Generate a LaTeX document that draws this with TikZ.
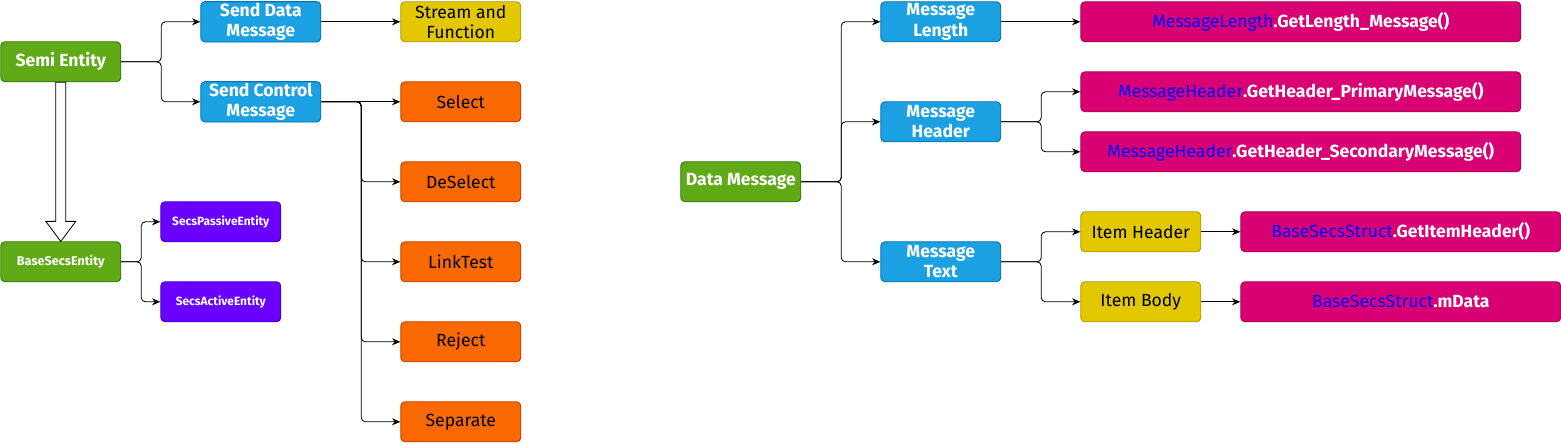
\documentclass[tikz,border=0pt]{standalone}
\usepackage{fontspec}
\setmainfont{Fira Sans}
\usepackage{tikz}
\usetikzlibrary{positioning}
\usetikzlibrary{calc}
\usetikzlibrary{arrows.meta}

\definecolor{gfill}{HTML}{60A917}\definecolor{gline}{HTML}{2D7600}
\definecolor{bfill}{HTML}{1BA1E2}\definecolor{bline}{HTML}{006EAF}
\definecolor{yfill}{HTML}{E3C800}\definecolor{yline}{HTML}{B09500}
\definecolor{ofill}{HTML}{FA6800}\definecolor{oline}{HTML}{C73500}
\definecolor{pfill}{HTML}{6A00FF}\definecolor{pline}{HTML}{3700CC}
\definecolor{mfill}{HTML}{D80073}\definecolor{mline}{HTML}{A50040}
\definecolor{cls}{HTML}{0000FF}

\newcommand{\cl}[2]{{\color{cls}\mdseries #1}.#2}

\begin{document}
\begin{tikzpicture}[
    font=\fontsize{12.5}{14.5}\selectfont,
    box/.style={rectangle,rounded corners=3pt,draw,line width=0.6pt,minimum width=3cm,minimum height=1cm,align=center,inner sep=1pt},
    green/.style={box,fill=gfill,draw=gline,text=white,font=\fontsize{12.5}{14.5}\selectfont\bfseries},
    blue/.style={box,fill=bfill,draw=bline,text=white,font=\fontsize{12.5}{14.5}\selectfont\bfseries},
    yellow/.style={box,fill=yfill,draw=yline,text=black},
    orange/.style={box,fill=ofill,draw=oline,text=black},
    purple/.style={box,fill=pfill,draw=pline,text=white,font=\fontsize{8.5}{10}\selectfont\bfseries},
    magenta/.style={box,fill=mfill,draw=mline,text=white,font=\fontsize{12.5}{14.5}\selectfont\bfseries},
    arrow/.style={-{Stealth[length=6pt,width=5pt]},semithick,rounded corners=3pt}
]
\useasboundingbox (-0.02,0.02) rectangle (39.005,-11.055);

% left part
\node[green] (semi) at (1.5,-1.525) {Semi Entity};
\node[blue] (senddata) at (6.5,-0.525) {Send Data\\Message};
\node[yellow] (stream) at (11.5,-0.525) {Stream and\\Function};
\node[blue] (sendctrl) at (6.5,-2.525) {Send Control\\Message};
\node[orange] (select) at (11.5,-2.525) {Select};
\node[orange] (deselect) at (11.5,-4.525) {DeSelect};
\node[orange] (linktest) at (11.5,-6.525) {LinkTest};
\node[orange] (reject) at (11.5,-8.525) {Reject};
\node[orange] (separate) at (11.5,-10.525) {Separate};
\node[green,font=\fontsize{9}{10}\selectfont\bfseries] (base) at (1.5,-6.525) {BaseSecsEntity};
\node[purple] (passive) at (5.5,-5.525) {SecsPassiveEntity};
\node[purple] (active) at (5.5,-7.525) {SecsActiveEntity};

\draw[arrow] (semi.east) -- ++(1,0) |- (senddata);
\draw[arrow] (semi.east) -- ++(1,0) |- (sendctrl);
\draw[arrow] (senddata) -- (stream);
\draw[arrow] (sendctrl) -- (select);
\foreach \t in {deselect,linktest,reject,separate}
    \draw[arrow] (sendctrl.east) -- ++(1,0) |- (\t);
\draw[arrow] (base.east) -- ++(0.5,0) |- (passive);
\draw[arrow] (base.east) -- ++(0.5,0) |- (active);

% hollow block arrow
\draw[semithick,fill=white] ($(semi.south)+(-0.125,0)$) -- ($(base.north)+(-0.125,0.5)$)
    -- ($(base.north)+(-0.375,0.5)$) -- (base.north) -- ($(base.north)+(0.375,0.5)$)
    -- ($(base.north)+(0.125,0.5)$) -- ($(semi.south)+(0.125,0)$) -- cycle;

% right part
\node[green] (datamsg) at (18.5,-4.525) {Data Message};
\node[blue] (msglen) at (23.5,-0.525) {Message\\Length};
\node[blue] (msghdr) at (23.5,-3.025) {Message\\Header};
\node[blue] (msgtxt) at (23.5,-6.525) {Message\\Text};
\node[magenta,minimum width=11cm] (getlen) at (32.5,-0.525) {\cl{MessageLength}{GetLength\_Message()}};
\node[magenta,minimum width=11cm] (primary) at (32.5,-2.275) {\cl{MessageHeader}{GetHeader\_PrimaryMessage()}};
\node[magenta,minimum width=11cm] (secondary) at (32.5,-3.775) {\cl{MessageHeader}{GetHeader\_SecondaryMessage()}};
\node[yellow] (itemhdr) at (28.5,-5.775) {Item Header};
\node[yellow] (itembody) at (28.5,-7.525) {Item Body};
\node[magenta,minimum width=8cm] (getitem) at (35,-5.775) {\cl{BaseSecsStruct}{GetItemHeader()}};
\node[magenta,minimum width=8cm] (mdata) at (35,-7.525) {\cl{BaseSecsStruct}{mData}};

\foreach \t in {msglen,msghdr,msgtxt}
    \draw[arrow] (datamsg.east) -- ++(1,0) |- (\t);
\draw[arrow] (msglen) -- (getlen);
\draw[arrow] (msghdr.east) -- ++(1,0) |- (primary);
\draw[arrow] (msghdr.east) -- ++(1,0) |- (secondary);
\draw[arrow] (msgtxt.east) -- ++(1,0) |- (itemhdr);
\draw[arrow] (msgtxt.east) -- ++(1,0) |- (itembody);
\draw[arrow] (itemhdr) -- (getitem);
\draw[arrow] (itembody) -- (mdata);
\end{tikzpicture}
\end{document}
